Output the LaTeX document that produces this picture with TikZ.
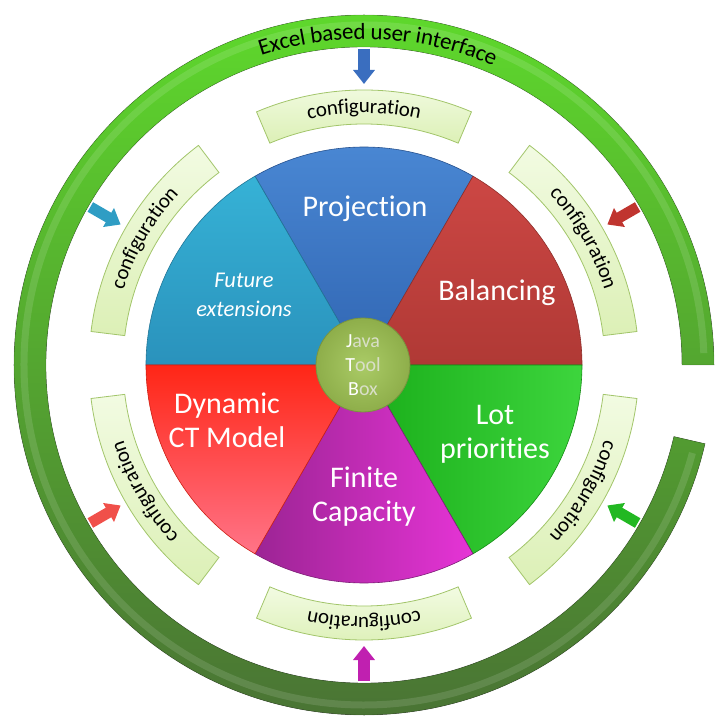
\documentclass[tikz,border=0pt]{standalone}
\usepackage{fontspec}
\setmainfont{Carlito}[Ligatures=NoCommon]
\usepackage{tikz}
\usetikzlibrary{arrows.meta,decorations.text}
\definecolor{ProjBlueL}{HTML}{4A88D4}
\definecolor{ProjBlueD}{HTML}{3065B2}
\definecolor{FutTealL}{HTML}{36B2D6}
\definecolor{FutTealD}{HTML}{2A92BC}
\definecolor{BalRedL}{HTML}{CC4744}
\definecolor{BalRedD}{HTML}{B03935}
\definecolor{LotGreenL}{HTML}{3DD53D}
\definecolor{LotGreenD}{HTML}{1AAE1A}
\definecolor{FinMagL}{HTML}{E634D6}
\definecolor{FinMagD}{HTML}{9C2494}
\definecolor{DynRedT}{HTML}{FF2616}
\definecolor{DynRedB}{HTML}{FF7488}
\definecolor{JTBLight}{HTML}{AACB66}
\definecolor{JTBDark}{HTML}{8EAE4A}
\definecolor{JTBGray}{HTML}{D9DFC8}
\definecolor{RingTop}{HTML}{5ED82C}
\definecolor{RingBottom}{HTML}{4A7434}
\definecolor{BandLight}{HTML}{F2FBE2}
\definecolor{BandDark}{HTML}{DCF0B6}
\definecolor{BandEdge}{HTML}{A2C56A}
\definecolor{ArrBlue}{HTML}{3A6EBF}
\definecolor{ArrTeal}{HTML}{2F9DC4}
\definecolor{ArrDarkRed}{HTML}{C0352F}
\definecolor{ArrGreen}{HTML}{22B822}
\definecolor{ArrMagenta}{HTML}{C020B0}
\definecolor{ArrRed}{HTML}{F0504A}
\newcommand{\cfgfont}{\fontsize{21}{25}\selectfont}
\newcommand{\ringfont}{\fontsize{23}{28}\selectfont}

\begin{document}
\begin{tikzpicture}[x=1pt,y=1pt,>=Latex,
  sectorlabel/.style={text=white,font=\fontsize{30}{34}\selectfont,align=center},
  cfgband/.style={draw=BandEdge,line width=.8pt,top color=BandLight,bottom color=BandDark},
  cfgarrow/.style={-{Triangle[width=21pt,length=14pt]},line width=11pt,draw=#1}]
\useasboundingbox (-364,-355) rectangle (351,365);
\fill[top color=RingTop,bottom color=RingBottom] (0:350) arc[start angle=0,end angle=347,radius=350] -- (347:318) arc[start angle=347,end angle=0,radius=318] -- cycle;
\draw[white,opacity=.12,line width=7pt] (2:340) arc[start angle=2,end angle=345,radius=340];
\draw[black,opacity=.15,line width=.8pt] (0:350) arc[start angle=0,end angle=347,radius=350] -- (347:318) arc[start angle=347,end angle=0,radius=318] -- cycle;
\path[decorate,decoration={text along path,text align=center,raise=-8pt,text={|\ringfont|Excel based user interface}}] (118:334) arc[start angle=118,end angle=57,radius=334];
\foreach \a in {90,30,150,210,270,330} {
  \path[cfgband] (\a-23:241) arc[start angle=\a-23,end angle=\a+23,radius=241] -- (\a+23:275) arc[start angle=\a+23,end angle=\a-23,radius=275] -- cycle;
  \path[decorate,decoration={text along path,text align=center,raise=-6pt,text={|\cfgfont|configuration}}] (\a+23:258) arc[start angle=\a+23,end angle=\a-23,radius=258];
}
\foreach \a/\c in {90/ArrBlue,150/ArrTeal,30/ArrDarkRed,330/ArrGreen,270/ArrMagenta,210/ArrRed} {
  \coordinate (ring\a) at (\a:316);
  \coordinate (band\a) at (\a:281);
  \draw[cfgarrow=\c] (ring\a) -- (band\a);
}
\path[top color=ProjBlueL,bottom color=ProjBlueD,draw=ProjBlueD!80!black,line width=.6pt] (0,0) -- (60:218) arc[start angle=60,end angle=120,radius=218] -- cycle;
\path[top color=FutTealL,bottom color=FutTealD,draw=FutTealD!80!black,line width=.6pt] (0,0) -- (120:218) arc[start angle=120,end angle=180,radius=218] -- cycle;
\path[top color=BalRedL,bottom color=BalRedD,draw=BalRedD!80!black,line width=.6pt] (0,0) -- (0:218) arc[start angle=0,end angle=60,radius=218] -- cycle;
\path[left color=LotGreenD,right color=LotGreenL,draw=LotGreenD!80!black,line width=.6pt] (0,0) -- (300:218) arc[start angle=300,end angle=360,radius=218] -- cycle;
\path[left color=FinMagD,right color=FinMagL,draw=FinMagD!80!black,line width=.6pt] (0,0) -- (240:218) arc[start angle=240,end angle=300,radius=218] -- cycle;
\path[top color=DynRedT,bottom color=DynRedB,draw=DynRedT!80!black,line width=.6pt] (0,0) -- (180:218) arc[start angle=180,end angle=240,radius=218] -- cycle;
\node[sectorlabel] (proj) at (1,156) {Projection};
\node[sectorlabel] (bal) at (133,72) {Balancing};
\node[sectorlabel] (lot) at (131,-69) {Lot\\priorities};
\node[sectorlabel] (fin) at (0,-132) {Finite\\Capacity};
\node[sectorlabel] (dyn) at (-137,-55) {Dynamic\\CT Model};
\node[sectorlabel,font=\itshape\fontsize{22.5}{29}\selectfont] (fut) at (-120,70) {Future\\extensions};
\node[circle,minimum size=94pt,inner sep=0pt,inner color=JTBLight,outer color=JTBDark,draw=JTBDark!85!black,line width=.8pt,align=center,font=\fontsize{20}{24}\selectfont] (jtb) at (-1,0) {\textcolor{white}{J}\textcolor{JTBGray}{ava}\\\textcolor{white}{T}\textcolor{JTBGray}{ool}\\\textcolor{white}{B}\textcolor{JTBGray}{ox}};
\end{tikzpicture}
\end{document}
